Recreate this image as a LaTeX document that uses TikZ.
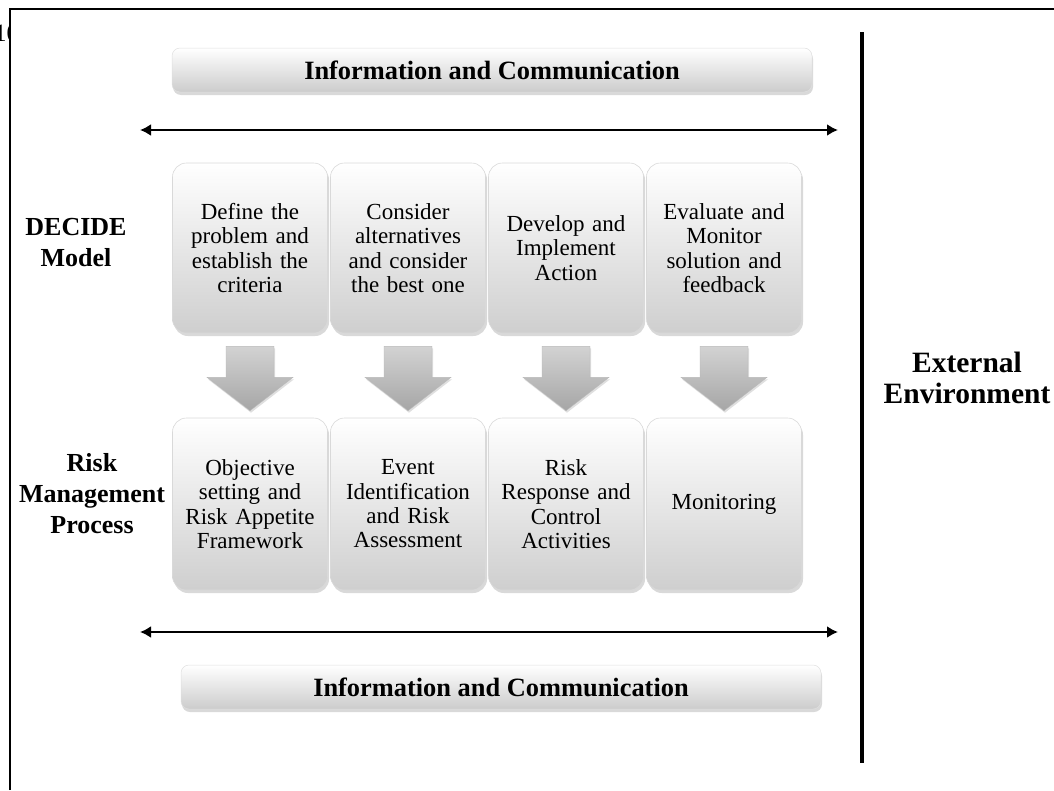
\documentclass[tikz,border=0pt]{standalone}
\usepackage{fontspec}
\setmainfont{Liberation Serif}
\usetikzlibrary{shadows,calc,arrows.meta}
\begin{document}
\begin{tikzpicture}[x=1pt,y=-1pt,
  stagebox/.style={rounded corners=14pt, minimum width=155pt, minimum height=170pt,
    text width=150pt, align=center, top color=white, bottom color=gray!38,
    draw=gray!30, line width=0.6pt, inner sep=0pt,
    drop shadow={shadow xshift=1.5pt, shadow yshift=-3pt, opacity=0.3},
    font=\fontsize{23}{24.3}\selectfont},
  banner/.style={rounded corners=8pt, minimum width=640pt, minimum height=44pt,
    top color=white, bottom color=gray!40, draw=gray!25, line width=0.5pt,
    drop shadow={shadow xshift=1pt, shadow yshift=-3pt, opacity=0.3},
    font=\bfseries\fontsize{26.4}{28}\selectfont},
  sidelabel/.style={align=center, font=\bfseries\fontsize{26}{31}\selectfont},
  extlabel/.style={align=center, font=\bfseries\fontsize{29.5}{31}\selectfont},
  downarrow/.style={top color=gray!35, bottom color=gray!70, draw=gray!55, line width=0.4pt,
    drop shadow={shadow xshift=1pt, shadow yshift=-2pt, opacity=0.25}},
  dblarrow/.style={line width=2.6pt, {Latex[length=11pt,width=12pt]}-{Latex[length=11pt,width=12pt]}},
  rule/.style={line width=3.2pt}
]
\useasboundingbox (0,0) rectangle (1054,790);
% frame and page number fragment
\begin{scope}
  \clip (0,0) rectangle (10,60);
  \node[anchor=west, inner sep=0pt, font=\fontsize{25}{26}\selectfont] (pg) at (-6,33) {10};
\end{scope}
\coordinate (fbl) at (10,790);
\coordinate (ftl) at (10,9);
\coordinate (ftr) at (1054,9);
\draw[line width=2pt] (fbl) -- (ftl) -- (ftr);

% banners
\node[banner] (icTop) at (492,70) {Information and Communication};
\node[banner] (icBot) at (501,687) {Information and Communication};

% double arrows
\coordinate (aTL) at (140,130);
\coordinate (aTR) at (838,130);
\draw[dblarrow] (aTL) -- (aTR);
\coordinate (aBL) at (140,632);
\coordinate (aBR) at (838,632);
\draw[dblarrow] (aBL) -- (aBR);

% vertical rule
\coordinate (vT) at (862,32);
\coordinate (vB) at (862,763);
\draw[rule] (vT) -- (vB);

% DECIDE row
\node[stagebox] (t1) at (250,248) {Define the\\problem and\\establish the\\criteria};
\node[stagebox] (t2) at (408,248) {Consider\\alternatives\\and consider\\the best one};
\node[stagebox] (t3) at (566,248) {Develop and\\Implement\\Action};
\node[stagebox] (t4) at (724,248) {Evaluate and\\Monitor\\solution and\\feedback};

% Risk management row
\node[stagebox, minimum height=172pt] (b1) at (250,504) {Objective\\setting and\\Risk Appetite\\Framework};
\node[stagebox, minimum height=172pt] (b2) at (408,504) {Event\\Identification\\and Risk\\Assessment};
\node[stagebox, minimum height=172pt] (b3) at (566,504) {Risk\\Response and\\Control\\Activities};
\node[stagebox, minimum height=172pt] (b4) at (724,504) {Monitoring};

% down arrows
\foreach \i in {1,2,3,4}{
  \path[downarrow] ($(t\i.south)+(-24,13)$) -- ($(t\i.south)+(24,13)$)
    -- ($(t\i.south)+(24,44)$) -- ($(t\i.south)+(43,44)$)
    -- ($(b\i.north)+(0,-7)$)
    -- ($(t\i.south)+(-43,44)$) -- ($(t\i.south)+(-24,44)$) -- cycle;
}

% side labels
\node[sidelabel] (decide) at (76,243) {DECIDE\\Model};
\node[sidelabel] (rmp) at (92,494) {Risk\\Management\\Process};
\node[extlabel] (ext) at (967,378) {External\\Environment};
\end{tikzpicture}
\end{document}
